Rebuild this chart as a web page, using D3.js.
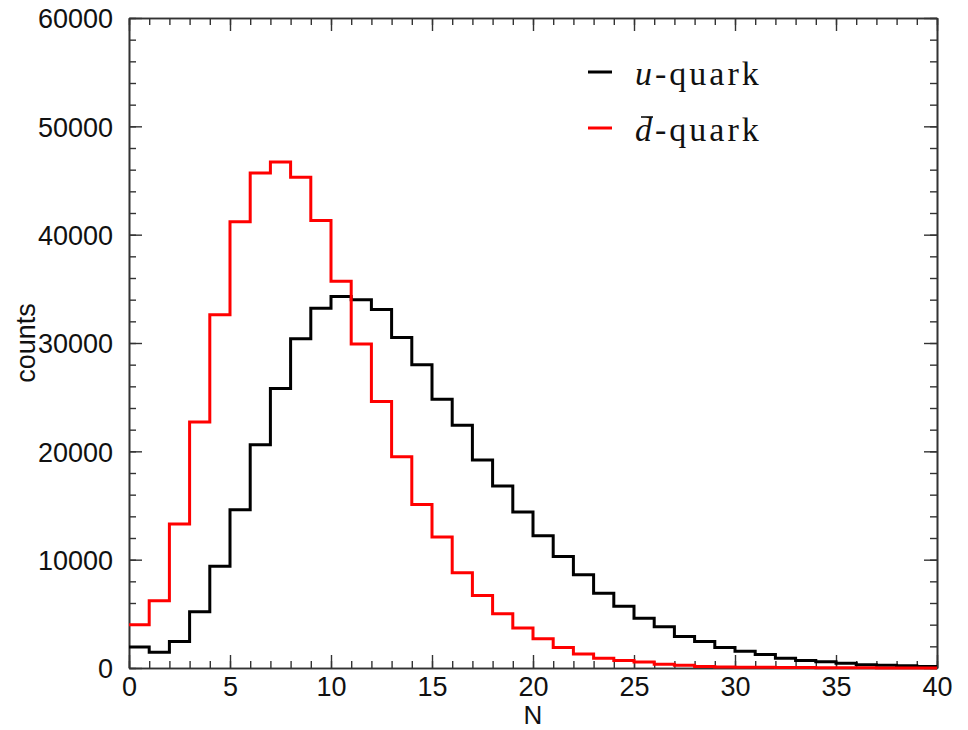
<!DOCTYPE html>
<html>
<head>
<meta charset="utf-8">
<script src="https://cdn.jsdelivr.net/npm/d3@7"></script>
<style>
  body { margin: 0; background: #fff; }
  svg { display: block; }
</style>
</head>
<body>
<svg width="968" height="730"></svg>
<script>
// bin counts, one per unit bin from N=0 to N=40
const uQuark = [1950, 1450, 2450, 5200, 9400, 14600, 20600, 25800, 30400, 33200,
    34300, 34000, 33100, 30500, 28000, 24800, 22400, 19200, 16800, 14400,
    12200, 10300, 8600, 6900, 5700, 4600, 3800, 2900, 2450, 1900,
    1550, 1250, 900, 700, 580, 430, 300, 250, 200, 150];
const dbarQuark = [4000, 6200, 13300, 22700, 32600, 41200, 45700, 46700, 45300, 41300,
    35700, 29900, 24600, 19500, 15100, 12100, 8800, 6700, 5000, 3700,
    2700, 1900, 1300, 900, 700, 550, 350, 250, 150, 100,
    80, 60, 50, 40, 30, 20, 15, 10, 10, 5];
const xTicks = [0, 5, 10, 15, 20, 25, 30, 35, 40];
const yTicks = [0, 10000, 20000, 30000, 40000, 50000, 60000];

const margin = {top: 18, right: 31, bottom: 62, left: 129};
const width = 968 - margin.left - margin.right;
const height = 730 - margin.top - margin.bottom;

const svg = d3.select("svg");
const g = svg.append("g")
    .attr("transform", `translate(${margin.left}, ${margin.top})`);

const x = d3.scaleLinear().domain([0, 40]).range([0, width]);
const y = d3.scaleLinear().domain([0, 60000]).range([height, 0]);

const axisColor = "#333";
const tickFont = "'Liberation Sans', Arial, sans-serif";

// minor ticks
const xMinor = d3.range(0, 41, 1);
const yMinor = d3.range(0, 60001, 2000);

function styleAxis(sel) {
    sel.select(".domain").attr("stroke", axisColor).attr("stroke-width", 1.6);
    sel.selectAll(".tick line").attr("stroke", axisColor).attr("stroke-width", 1.4);
}

// bottom
g.append("g").attr("transform", `translate(0, ${height})`)
    .call(d3.axisBottom(x).tickValues(xMinor).tickSize(-7).tickSizeOuter(0).tickFormat(""))
    .call(styleAxis);
const xAx = g.append("g").attr("transform", `translate(0, ${height})`)
    .call(d3.axisBottom(x).tickValues(xTicks).tickSize(-13).tickSizeOuter(0))
    .call(styleAxis);
xAx.selectAll("text")
    .attr("y", 28)
    .attr("dy", 0)
    .attr("fill", "#111")
    .style("font-family", tickFont)
    .style("font-size", "27px");

// top
g.append("g")
    .call(d3.axisTop(x).tickValues(xMinor).tickSize(-7).tickSizeOuter(0).tickFormat(""))
    .call(styleAxis);
g.append("g")
    .call(d3.axisTop(x).tickValues(xTicks).tickSize(-13).tickSizeOuter(0).tickFormat(""))
    .call(styleAxis);

// left
g.append("g")
    .call(d3.axisLeft(y).tickValues(yMinor).tickSize(-7).tickSizeOuter(0).tickFormat(""))
    .call(styleAxis);
const yAx = g.append("g")
    .call(d3.axisLeft(y).tickValues(yTicks).tickSize(-13).tickSizeOuter(0).tickFormat(d3.format("d")))
    .call(styleAxis);
yAx.selectAll("text")
    .attr("x", -16)
    .attr("dy", "0.36em")
    .attr("fill", "#111")
    .style("font-family", tickFont)
    .style("font-size", "27px");

// right
g.append("g").attr("transform", `translate(${width}, 0)`)
    .call(d3.axisRight(y).tickValues(yMinor).tickSize(-7).tickSizeOuter(0).tickFormat(""))
    .call(styleAxis);
g.append("g").attr("transform", `translate(${width}, 0)`)
    .call(d3.axisRight(y).tickValues(yTicks).tickSize(-13).tickSizeOuter(0).tickFormat(""))
    .call(styleAxis);

// axis labels
g.append("text")
    .attr("x", width / 2)
    .attr("y", height + 56)
    .attr("text-anchor", "middle")
    .attr("fill", "#111")
    .style("font-family", tickFont)
    .style("font-size", "26px")
    .text("N");

g.append("text")
    .attr("transform", "rotate(-90)")
    .attr("x", -(height / 2))
    .attr("y", -94)
    .attr("text-anchor", "middle")
    .attr("fill", "#111")
    .style("font-family", tickFont)
    .style("font-size", "27px")
    .text("counts");

// histograms as step lines
const step = d3.line()
    .x(d => x(d[0]))
    .y(d => y(d[1]))
    .curve(d3.curveStepAfter);

function toSteps(vals) {
    const pts = vals.map((v, i) => [i, v]);
    pts.push([vals.length, vals[vals.length - 1]]);
    return pts;
}

g.append("path")
    .attr("d", step(toSteps(uQuark)))
    .attr("fill", "none")
    .attr("stroke", "#000")
    .attr("stroke-width", 3);

g.append("path")
    .attr("d", step(toSteps(dbarQuark)))
    .attr("fill", "none")
    .attr("stroke", "#ff0000")
    .attr("stroke-width", 3);

// legend
const serif = "'Liberation Serif', 'DejaVu Serif', serif";
const legend = svg.append("g");
const items = [
    {color: "#000", y: 72, sym: "u", bar: false},
    {color: "#ff0000", y: 128, sym: "d", bar: true}
];
items.forEach(it => {
    legend.append("line")
        .attr("x1", 588).attr("x2", 612)
        .attr("y1", it.y).attr("y2", it.y)
        .attr("stroke", it.color)
        .attr("stroke-width", 3);
    const t = legend.append("text")
        .attr("x", 635)
        .attr("y", it.y + 13)
        .attr("fill", "#111")
        .style("font-family", serif)
        .style("font-size", "34px")
        .style("letter-spacing", "3px");
    t.append("tspan").style("font-style", "italic").text(it.sym);
    t.append("tspan").text("-quark");
    if (it.bar) {
        legend.append("line")
            .attr("x1", 641).attr("x2", 653)
            .attr("y1", it.y - 11).attr("y2", it.y - 11)
            .attr("stroke", "#111")
            .attr("stroke-width", 1.6);
    }
});
</script>
</body>
</html>
